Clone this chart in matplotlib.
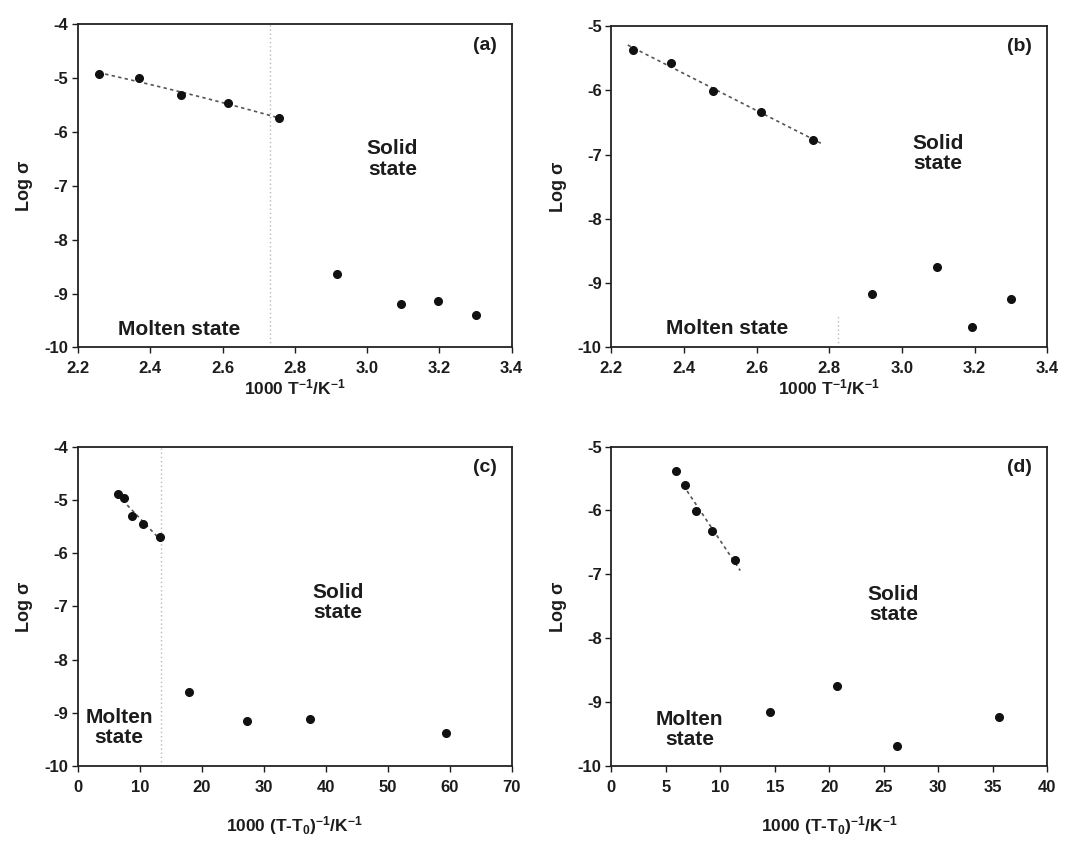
import numpy as np
import matplotlib
matplotlib.use('Agg')
import matplotlib.pyplot as plt
from matplotlib.ticker import FormatStrFormatter

plt.rcParams['font.family'] = ['Liberation Sans', 'DejaVu Sans']
plt.rcParams['font.weight'] = 'bold'
plt.rcParams['axes.unicode_minus'] = False
plt.rcParams['mathtext.fontset'] = 'custom'
plt.rcParams['mathtext.rm'] = 'Liberation Sans:bold'
plt.rcParams['mathtext.bf'] = 'Liberation Sans:bold'
plt.rcParams['mathtext.default'] = 'bf'

INK = '#1c1c1c'

# panel (a): log sigma vs 1000/T, sample 1
x_a = [2.257, 2.368, 2.486, 2.614, 2.757, 2.917, 3.095, 3.195, 3.301]
y_a = [-4.92, -5.00, -5.32, -5.46, -5.74, -8.64, -9.19, -9.13, -9.39]
# panel (b): log sigma vs 1000/T, sample 2
x_b = [2.260, 2.365, 2.481, 2.612, 2.755, 2.917, 3.096, 3.194, 3.301]
y_b = [-5.37, -5.58, -6.01, -6.33, -6.77, -9.17, -8.75, -9.68, -9.25]
# panel (c): log sigma vs 1000/(T-T0), sample 1
x_c = [6.45, 7.47, 8.71, 10.48, 13.28, 17.85, 27.26, 37.42, 59.4]
y_c = [-4.89, -4.97, -5.30, -5.45, -5.70, -8.61, -9.16, -9.11, -9.38]
# panel (d): log sigma vs 1000/(T-T0), sample 2
x_d = [5.91, 6.76, 7.74, 9.24, 11.38, 14.57, 20.72, 26.19, 35.56]
y_d = [-5.38, -5.60, -6.01, -6.32, -6.77, -9.16, -8.74, -9.68, -9.23]

n_molten = 5  # first five points are the molten region that gets a fit line

label_T = '1000 T$^{-1}$/K$^{-1}$'
label_TT0 = '1000 (T-T$_0$)$^{-1}$/K$^{-1}$'

fig = plt.figure(figsize=(10.84, 8.41), dpi=100)

panels = [
    dict(pos=[0.072, 0.587, 0.400, 0.384], x=x_a, y=y_a, xlim=(2.2, 3.4),
         xticks=np.arange(2.2, 3.41, 0.2), fmt='%.1f', ylim=(-10, -4), tag='(a)',
         deg=2, ext=(0.0, 0.0), vline=(2.73, 0, 1), solid=(3.07, -6.5),
         molten=(2.48, -9.66), mtxt='Molten state', xlabel=label_T, xpad=1),
    dict(pos=[0.564, 0.587, 0.402, 0.382], x=x_b, y=y_b, xlim=(2.2, 3.4),
         xticks=np.arange(2.2, 3.41, 0.2), fmt='%.1f', ylim=(-10, -5), tag='(b)',
         deg=1, ext=(0.015, 0.025), vline=(2.823, 0, 0.1), solid=(3.10, -6.98),
         molten=(2.518, -9.71), mtxt='Molten state', xlabel=label_T, xpad=1),
    dict(pos=[0.072, 0.089, 0.400, 0.380], x=x_c, y=y_c, xlim=(0, 70),
         xticks=np.arange(0, 71, 10), fmt='%d', ylim=(-10, -4), tag='(c)',
         deg=1, ext=(0.0, 0.0), vline=(13.4, 0, 1), solid=(42.0, -6.93),
         molten=(6.6, -9.27), mtxt='Molten\nstate', xlabel=label_TT0, xpad=14),
    dict(pos=[0.564, 0.089, 0.402, 0.380], x=x_d, y=y_d, xlim=(0, 40),
         xticks=np.arange(0, 41, 5), fmt='%d', ylim=(-10, -5), tag='(d)',
         deg=1, ext=(-0.7, 0.45), vline=None, solid=(25.9, -7.47),
         molten=(7.2, -9.43), mtxt='Molten\nstate', xlabel=label_TT0, xpad=14),
]

for p in panels:
    ax = fig.add_axes(p['pos'])
    x = np.array(p['x'])
    y = np.array(p['y'])

    if p['vline'] is not None:
        xv, y0, y1 = p['vline']
        ax.axvline(xv, ymin=y0, ymax=y1, color='#b8b8b8', lw=1.0,
                   linestyle=(0, (1, 2)), zorder=1)

    # fit through the molten-state points
    coef = np.polyfit(x[:n_molten], y[:n_molten], p['deg'])
    xf = np.linspace(x[0] - p['ext'][0], x[n_molten - 1] + p['ext'][1], 50)
    ax.plot(xf, np.polyval(coef, xf), color='#555555', lw=1.2,
            linestyle=(0, (2, 2)), zorder=2)

    ax.plot(x, y, 'o', color='#111111', ms=5.5, zorder=3)

    ax.set_xlim(*p['xlim'])
    ax.set_ylim(*p['ylim'])
    ax.set_xticks(p['xticks'])
    ax.set_yticks(np.arange(p['ylim'][0], p['ylim'][1] + 0.5, 1))
    ax.xaxis.set_major_formatter(FormatStrFormatter(p['fmt']))
    ax.tick_params(axis='x', labelsize=12, direction='out', length=4,
                   width=1, colors=INK, pad=6)
    ax.tick_params(axis='y', labelsize=12, direction='out', length=4,
                   width=1, colors=INK, pad=3)
    for s in ax.spines.values():
        s.set_linewidth(1.3)
        s.set_color('#222222')

    ax.set_xlabel(p['xlabel'], fontsize=12.5, fontweight='bold', color=INK,
                  labelpad=p['xpad'])
    ax.set_ylabel('Log σ', fontsize=13, fontweight='bold', color=INK, labelpad=8)

    ax.text(0.965, 0.935, p['tag'], transform=ax.transAxes, ha='right', va='center',
            fontsize=14, fontweight='bold', color=INK)
    ax.text(p['solid'][0], p['solid'][1], 'Solid\nstate', ha='center', va='center',
            fontsize=15, fontweight='bold', color=INK, linespacing=1.1)
    ax.text(p['molten'][0], p['molten'][1], p['mtxt'], ha='center', va='center',
            fontsize=15, fontweight='bold', color=INK, linespacing=1.1)

fig.savefig('out.png', dpi=100)
